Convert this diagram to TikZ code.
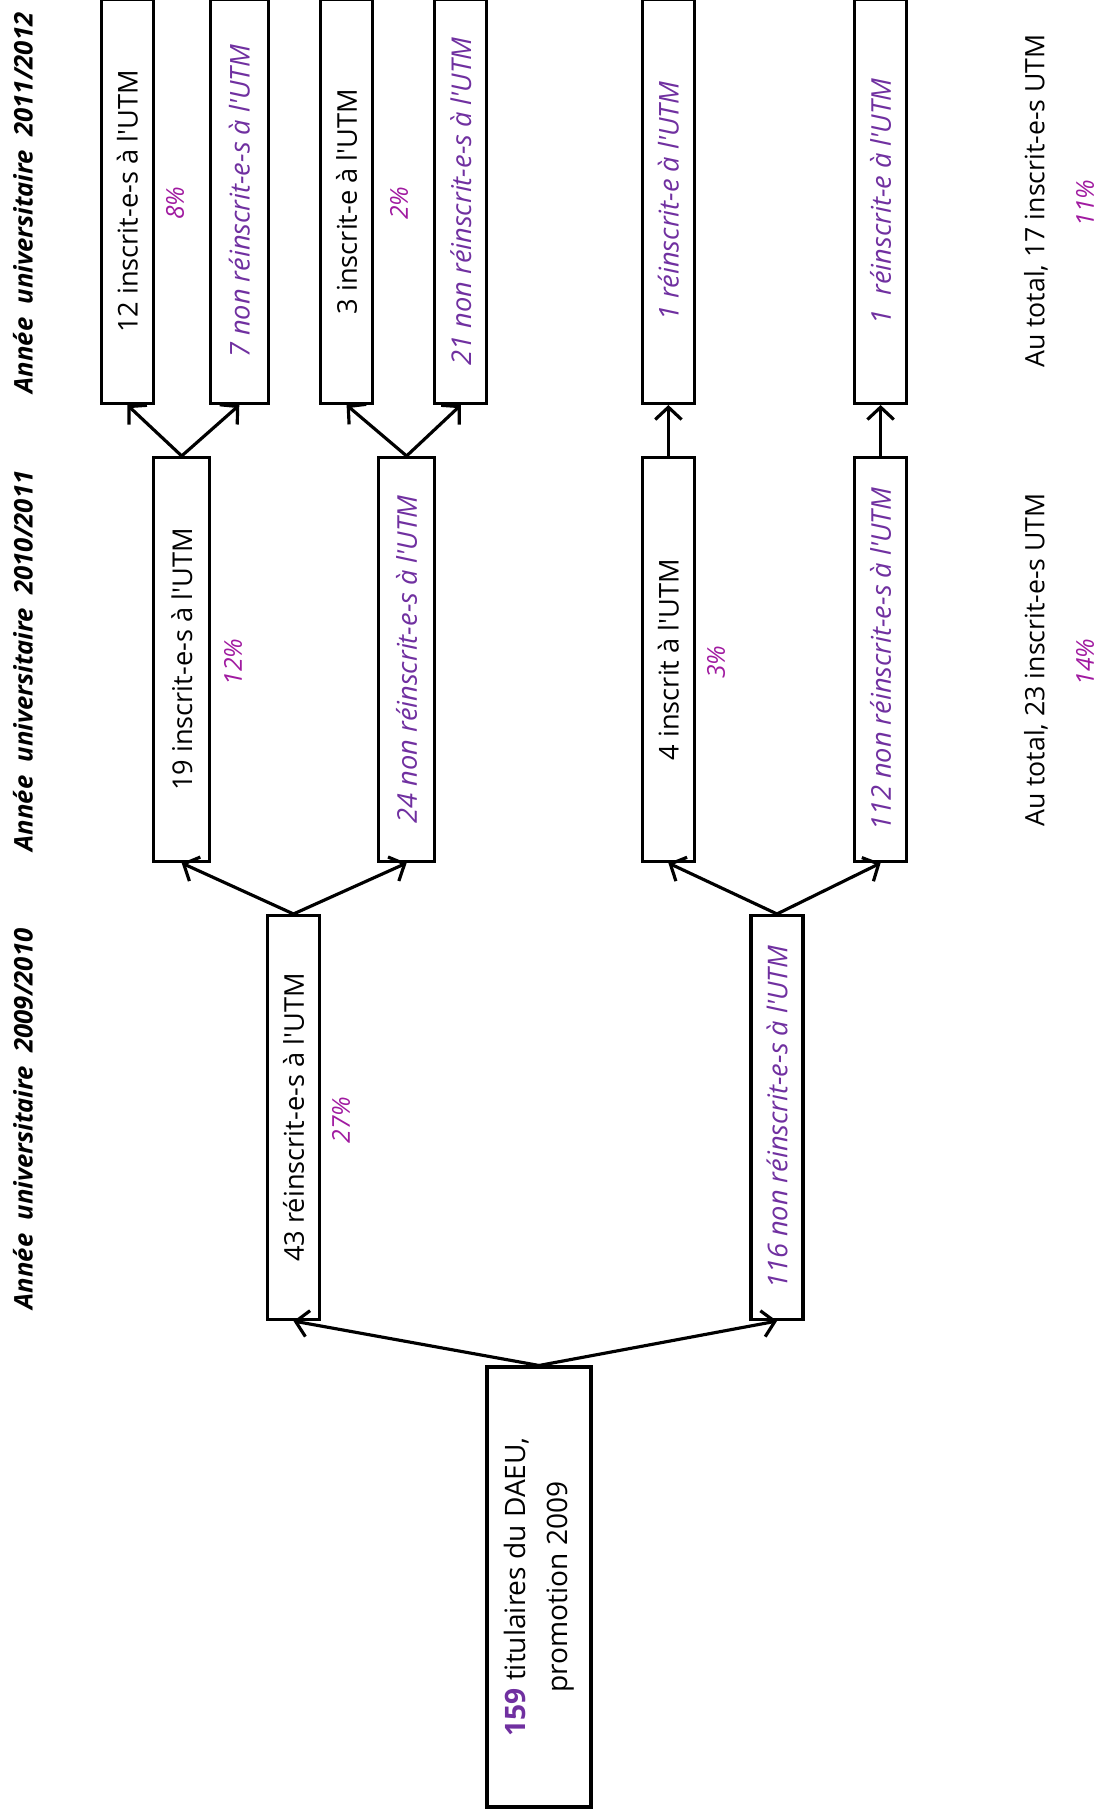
\documentclass[tikz,border=0pt]{standalone}
\usepackage{fontspec}
\setmainfont{Open Sans}
\usepackage{xcolor}
\usetikzlibrary{arrows.meta}

\definecolor{nonre}{HTML}{7030A0}
\definecolor{pct}{HTML}{A01AA0}

\begin{document}
\begin{tikzpicture}[x=0.02cm,y=-0.02cm,
    boite/.style={draw,line width=1.8pt,rotate=90,inner sep=0pt,
      minimum width=8.08cm,minimum height=1.04cm,font=\fontsize{15.5}{18}\selectfont},
    non/.style={text=nonre,font=\itshape\fontsize{15.5}{18}\selectfont},
    pourc/.style={rotate=90,text=pct,font=\itshape\fontsize{14}{17}\selectfont},
    annee/.style={rotate=90,font=\bfseries\itshape\fontsize{14.6}{17}\selectfont},
    total/.style={rotate=90,font=\fontsize{15.2}{18}\selectfont},
    fleche/.style={line width=1.8pt,-{Straight Barb[length=7pt,width=15pt,line width=1.8pt]}}]
  \useasboundingbox (0,0) rectangle (1113,1809);

  % annees
  \node[annee] (a1) at (23,1119) {Année\ \ universitaire\ \ 2009/2010};
  \node[annee] (a2) at (23,661) {Année\ \ universitaire\ \ 2010/2011};
  \node[annee] (a3) at (23,203) {Année\ \ universitaire\ \ 2011/2012};

  % depart
  \node[boite,minimum width=8.8cm,minimum height=2.08cm,align=center,
    font=\fontsize{16}{24}\selectfont] (b159) at (539,1587)
    {{\bfseries\color{nonre}159} titulaires du DAEU,\\promotion 2009};

  % 2009/2010
  \node[boite] (b43) at (293.5,1117.5) {43 réinscrit-e-s à l\textquotesingle UTM};
  \node[boite,non] (b116) at (777,1117.5) {116 non réinscrit-e-s à l\textquotesingle UTM};
  \node[pourc] (p27) at (341,1120) {27\%};

  % 2010/2011
  \node[boite,minimum height=1.12cm] (b19) at (181.7,659.5) {19 inscrit-e-s à l\textquotesingle UTM};
  \node[boite,non,minimum height=1.12cm] (b24) at (406.6,659.5) {24 non réinscrit-e-s à l\textquotesingle UTM};
  \node[boite] (b4) at (668.4,659.5) {4 inscrit à l\textquotesingle UTM};
  \node[boite,non] (b112) at (880.6,659.5) {112 non réinscrit-e-s à l\textquotesingle UTM};
  \node[pourc] (p12) at (233,662) {12\%};
  \node[pourc] (p3) at (716,662) {3\%};

  % 2011/2012
  \node[boite] (b12) at (127.4,201.5) {12 inscrit-e-s à l\textquotesingle UTM};
  \node[boite,non,minimum height=1.16cm] (b7) at (239.3,201.5) {7 non réinscrit-e-s à l\textquotesingle UTM};
  \node[boite] (b3) at (346.6,201.5) {3 inscrit-e à l\textquotesingle UTM};
  \node[boite,non] (b21) at (460.8,201.5) {21 non réinscrit-e-s à l\textquotesingle UTM};
  \node[boite,non] (b1a) at (668.4,201.5) {1 réinscrit-e à l\textquotesingle UTM};
  \node[boite,non] (b1b) at (880.6,201.5) {1\ \ réinscrit-e à l\textquotesingle UTM};
  \node[pourc] (p8) at (175,203) {8\%};
  \node[pourc] (p2) at (399,203) {2\%};

  % totaux
  \node[total] (t23) at (1036,660) {Au total, 23 inscrit-e-s UTM};
  \node[pourc] (p14) at (1085,662) {14\%};
  \node[total] (t17) at (1036,201) {Au total, 17 inscrit-e-s UTM};
  \node[pourc] (p11) at (1085,203) {11\%};

  \draw[fleche] (b159.east) -- (b43.west);
  \draw[fleche] (b159.east) -- (b116.west);
  \draw[fleche] (b43.east) -- (b19.west);
  \draw[fleche] (b43.east) -- (b24.west);
  \draw[fleche] (b116.east) -- (b4.west);
  \draw[fleche] (b116.east) -- (b112.west);
  \draw[fleche] (b19.east) -- (b12.west);
  \draw[fleche] (b19.east) -- (b7.west);
  \draw[fleche] (b24.east) -- (b3.west);
  \draw[fleche] (b24.east) -- (b21.west);
  \draw[fleche] (b4.east) -- (b1a.west);
  \draw[fleche] (b112.east) -- (b1b.west);
\end{tikzpicture}
\end{document}
